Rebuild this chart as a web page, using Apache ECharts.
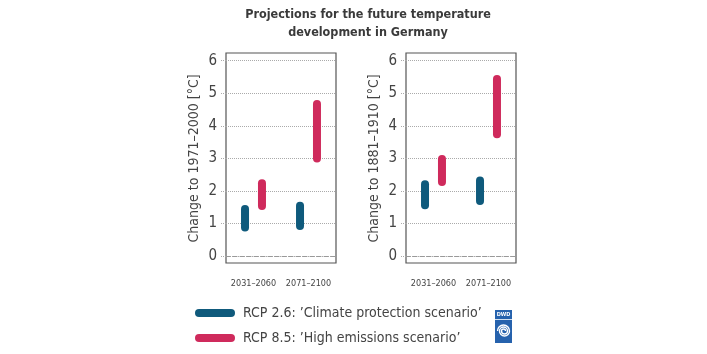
<!DOCTYPE html>
<html>
<head>
<meta charset="utf-8">
<script src="https://cdn.jsdelivr.net/npm/echarts@6/dist/echarts.min.js"></script>
<style>
html, body { margin: 0; padding: 0; background: #fff; }
#chart { width: 707px; height: 354px; }
</style>
</head>
<body>
<div id="chart"></div>
<script>
// periods on the x axes
const periods = ['2031–2060', '2071–2100']
const yTicks = [0, 1, 2, 3, 4, 5, 6]

// change relative to 1971–2000 (visible range, low / high)
const rcp26Low1971 = [0.75, 0.80]
const rcp26High1971 = [1.57, 1.67]
const rcp85Low1971 = [1.41, 2.87]
const rcp85High1971 = [2.36, 4.79]

// change relative to 1881–1910
const rcp26Low1881 = [1.44, 1.57]
const rcp26High1881 = [2.33, 2.44]
const rcp85Low1881 = [2.15, 3.62]
const rcp85High1881 = [3.10, 5.56]

const nameRcp26 = 'RCP 2.6: \u2019Climate protection scenario\u2019'
const nameRcp85 = 'RCP 8.5: \u2019High emissions scenario\u2019'
const blue = '#0f5a7c'
const red = '#cf2a5c'
const font = 'DejaVu Sans Condensed, sans-serif'

const myChart = echarts.init(document.getElementById('chart'))

function diff(hi, lo) {
    return hi.map((v, i) => +(v - lo[i]).toFixed(2))
}

function rangeSeries(idx, low, high, name, color, stack) {
    return [{
        type: 'bar',
        name: 'base' + stack + idx,
        xAxisIndex: idx,
        yAxisIndex: idx,
        stack: stack + idx,
        barWidth: 8,
        barGap: '112%',
        silent: true,
        itemStyle: { color: 'transparent' },
        data: low
    }, {
        type: 'bar',
        name: name,
        xAxisIndex: idx,
        yAxisIndex: idx,
        stack: stack + idx,
        barWidth: 8,
        barGap: '112%',
        itemStyle: { color: color, borderRadius: 4 },
        data: diff(high, low)
    }]
}

const grids = [{ left: 226, top: 60.7, width: 110, height: 195.3 },
    { left: 406, top: 60.7, width: 110, height: 195.3 }]
const yNames = ['Change to 1971–2000 [°C]', 'Change to 1881–1910 [°C]']

const xAxis = grids.map((g, i) => ({
    type: 'category',
    gridIndex: i,
    data: periods,
    axisTick: { show: false },
    axisLine: { lineStyle: { color: '#999', type: [4, 3], width: 1 } },
    axisLabel: { color: '#444', fontSize: 9, margin: 23, interval: 0, fontFamily: font }
}))

const yAxis = grids.map((g, i) => ({
    type: 'value',
    gridIndex: i,
    min: yTicks[0],
    max: yTicks[yTicks.length - 1],
    interval: 1,
    name: yNames[i],
    nameLocation: 'middle',
    nameRotate: 90,
    nameGap: 25,
    nameTextStyle: { color: '#444', fontSize: 14, fontFamily: font },
    axisLine: { show: false },
    axisTick: { show: true, length: 6, lineStyle: { color: '#aaa', type: 'dotted' } },
    axisLabel: { color: '#444', fontSize: 15, margin: 9, fontFamily: font },
    splitLine: { lineStyle: { color: '#aaa', type: 'dotted' } }
}))

const series = [].concat(
    rangeSeries(0, rcp26Low1971, rcp26High1971, nameRcp26, blue, 'b'),
    rangeSeries(0, rcp85Low1971, rcp85High1971, nameRcp85, red, 'r'),
    rangeSeries(1, rcp26Low1881, rcp26High1881, nameRcp26, blue, 'b'),
    rangeSeries(1, rcp85Low1881, rcp85High1881, nameRcp85, red, 'r')
)

const pill = 'path://M4,0 H36 A4,4 0 0 1 36,8 H4 A4,4 0 0 1 4,0 Z'

// spiral of the logo, made of half circles
const spiral = [[503.5, 6, Math.PI, Math.PI * 2], [504.5, 5, 0, Math.PI],
    [503.5, 4, Math.PI, Math.PI * 2], [504.5, 3, 0, Math.PI], [503.5, 2, Math.PI, Math.PI * 2]]
    .map(a => ({
        type: 'arc',
        shape: { cx: a[0], cy: 331, r: a[1], startAngle: a[2], endAngle: a[3], clockwise: true },
        style: { fill: 'none', stroke: '#fff', lineWidth: 1.4 }
    }))

myChart.setOption({
    animation: false,
    color: [blue, red],
    grid: grids,
    xAxis: xAxis,
    yAxis: yAxis,
    legend: {
        orient: 'vertical',
        left: 190,
        top: 301,
        itemWidth: 40,
        itemHeight: 9,
        itemGap: 11,
        data: [{ name: nameRcp26, icon: pill }, { name: nameRcp85, icon: pill }],
        textStyle: { color: '#444', fontSize: 14, fontFamily: font, padding: [0, 0, 0, 3] }
    },
    graphic: [
        {
            type: 'text',
            style: {
                text: 'Projections for the future temperature\ndevelopment in Germany',
                x: 368, y: 6, textAlign: 'center',
                fill: '#3a3a3a', fontSize: 12.5, fontWeight: 'bold', lineHeight: 18, fontFamily: font
            }
        },
        { type: 'rect', shape: { x: 226, y: 53, width: 110, height: 210 }, style: { fill: 'none', stroke: '#555', lineWidth: 1.2 }, silent: true },
        { type: 'rect', shape: { x: 406, y: 53, width: 110, height: 210 }, style: { fill: 'none', stroke: '#555', lineWidth: 1.2 }, silent: true },
        // DWD logo
        { type: 'rect', shape: { x: 495, y: 310, width: 17, height: 33 }, style: { fill: '#2662ad' } },
        { type: 'text', style: { text: 'DWD', x: 503.5, y: 312, textAlign: 'center', fill: '#fff', fontSize: 5.5, fontWeight: 'bold', fontFamily: font } },
        { type: 'line', shape: { x1: 495, y1: 319.5, x2: 512, y2: 319.5 }, style: { stroke: '#fff', lineWidth: 0.8 } }
    ].concat(spiral),
    series: series
})
</script>
</body>
</html>
